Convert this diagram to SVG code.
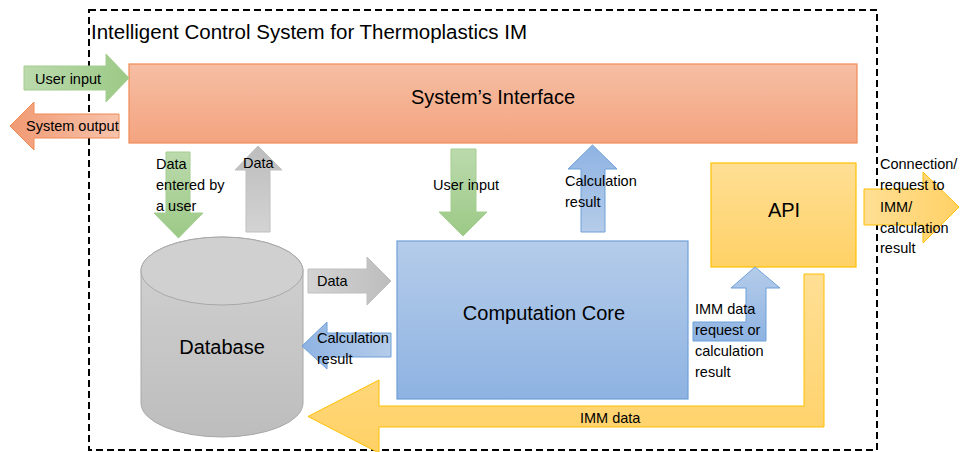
<svg xmlns="http://www.w3.org/2000/svg" width="961" height="452" viewBox="0 0 961 452">
  <defs>
    <linearGradient id="gOrange" x1="0" y1="0" x2="0" y2="1">
      <stop offset="0" stop-color="#F6BEA4"/>
      <stop offset="1" stop-color="#F4A47F"/>
    </linearGradient>
    <linearGradient id="gOrangeH" x1="1" y1="0" x2="0" y2="0">
      <stop offset="0" stop-color="#F7C3AB"/>
      <stop offset="1" stop-color="#F19A73"/>
    </linearGradient>
    <linearGradient id="gBlue" x1="0" y1="0" x2="0" y2="1">
      <stop offset="0" stop-color="#B5CCEA"/>
      <stop offset="1" stop-color="#8EB3E2"/>
    </linearGradient>
    <linearGradient id="gBlueUp" x1="0" y1="1" x2="0" y2="0">
      <stop offset="0" stop-color="#B5CCEA"/>
      <stop offset="1" stop-color="#8EB3E2"/>
    </linearGradient>
    <linearGradient id="gBlueL" x1="1" y1="0" x2="0" y2="0">
      <stop offset="0" stop-color="#B5CCEA"/>
      <stop offset="1" stop-color="#8EB3E2"/>
    </linearGradient>
    <linearGradient id="gYellow" x1="0" y1="0" x2="0" y2="1">
      <stop offset="0" stop-color="#FFDF95"/>
      <stop offset="1" stop-color="#FFD166"/>
    </linearGradient>
    <linearGradient id="gYellowH" x1="0" y1="0" x2="1" y2="0">
      <stop offset="0" stop-color="#FFDF95"/>
      <stop offset="1" stop-color="#FFD166"/>
    </linearGradient>
    <linearGradient id="gGreenR" x1="0" y1="0" x2="1" y2="0">
      <stop offset="0" stop-color="#BBDAAD"/>
      <stop offset="1" stop-color="#9CC986"/>
    </linearGradient>
    <linearGradient id="gGreenD" x1="0" y1="0" x2="0" y2="1">
      <stop offset="0" stop-color="#BBDAAD"/>
      <stop offset="1" stop-color="#9CC986"/>
    </linearGradient>
    <linearGradient id="gGrayR" x1="0" y1="0" x2="1" y2="0">
      <stop offset="0" stop-color="#D3D3D3"/>
      <stop offset="1" stop-color="#BDBDBD"/>
    </linearGradient>
    <linearGradient id="gGrayU" x1="0" y1="1" x2="0" y2="0">
      <stop offset="0" stop-color="#D3D3D3"/>
      <stop offset="1" stop-color="#BDBDBD"/>
    </linearGradient>
    <linearGradient id="gGrayDb" x1="0" y1="0" x2="0" y2="1">
      <stop offset="0" stop-color="#D2D2D2"/>
      <stop offset="1" stop-color="#BDBDBD"/>
    </linearGradient>
  </defs>
  <style>
    text { font-family: "Liberation Sans", Arial, sans-serif; fill: #000; }
    .big { font-size: 20px; }
    .lbl { font-size: 14.5px; }
    .frame { fill: none; stroke: #000; stroke-width: 2; stroke-dasharray: 7 4; }
    .green { fill: url(#gGreenD); stroke: #A3CE8F; stroke-width: 1; }
    .gray { stroke: #BFBFBF; stroke-width: 1; }
    .blue { stroke: #6FA0D8; stroke-width: 1; }
    .yellow { stroke: #FFC000; stroke-width: 1; }
    .orange { stroke: #F08A55; stroke-width: 1; }
  </style>

  <rect width="961" height="452" fill="#fff"/>

  <!-- system boundary -->
  <g id="boundary">
    <rect class="frame" x="89" y="10" width="788" height="440"/>
    <text x="91" y="39" font-size="19.5" textLength="436" lengthAdjust="spacingAndGlyphs">Intelligent Control System for Thermoplastics IM</text>
  </g>

  <!-- nodes -->
  <g id="interface">
    <rect x="129" y="64" width="728" height="79" fill="url(#gOrange)" stroke="#F08A55" stroke-width="1.2"/>
    <text class="big" x="493" y="104" text-anchor="middle">System’s Interface</text>
  </g>

  <g id="database">
    <path d="M141,271 A81,34 0 0 1 303,271 V403 A81,34 0 0 1 141,403 Z" fill="url(#gGrayDb)" stroke="#A8A8A8" stroke-width="1"/>
    <ellipse cx="222" cy="271" rx="81" ry="34" fill="#D0D0D0" stroke="#A8A8A8" stroke-width="1"/>
    <text class="big" x="222" y="354" text-anchor="middle">Database</text>
  </g>

  <g id="core">
    <rect x="397" y="241" width="291" height="158" fill="url(#gBlue)" stroke="#6FA0D8" stroke-width="1.2"/>
    <text class="big" x="544" y="320" text-anchor="middle">Computation Core</text>
  </g>

  <g id="api">
    <rect x="711" y="163" width="145" height="104" fill="url(#gYellow)" stroke="#FFC000" stroke-width="1.2"/>
    <text class="big" x="784" y="217" text-anchor="middle">API</text>
  </g>

  <!-- connectors (block arrows) -->
  <g id="connectors">
    <!-- user input into the interface -->
    <polygon points="24,66 106,66 106,54 129,78 106,102 106,90 24,90" fill="url(#gGreenR)" stroke="#A3CE8F"/>
    <text class="lbl" x="35" y="84">User input</text>

    <!-- system output -->
    <polygon points="119,114 34,114 34,102 10,126 34,150 34,138 119,138" fill="url(#gOrangeH)" class="orange"/>
    <text class="lbl" x="26" y="131">System output</text>

    <!-- interface to database -->
    <polygon class="green" points="166,152 190,152 190,213 203,213 178.5,238 154,213 166,213"/>
    <text class="lbl" x="156" y="169">Data</text>
    <text class="lbl" x="156" y="190">entered by</text>
    <text class="lbl" x="156" y="211">a user</text>

    <!-- database to interface -->
    <polygon class="gray" fill="url(#gGrayU)" points="246,232 270,232 270,170 282,170 258,146 235,170 246,170"/>
    <text class="lbl" x="243" y="168">Data</text>

    <!-- interface to core -->
    <polygon class="green" points="451,149 476,149 476,212 487,212 463,236 439,212 451,212"/>
    <text class="lbl" x="433" y="190">User input</text>

    <!-- core to interface -->
    <polygon class="blue" fill="url(#gBlueUp)" points="581,232 605,232 605,169 617,169 592.5,145 568,169 581,169"/>
    <text class="lbl" x="565" y="186">Calculation</text>
    <text class="lbl" x="565" y="207">result</text>

    <!-- database to core -->
    <polygon class="gray" fill="url(#gGrayR)" points="308,269 367,269 367,257 391,281 367,305 367,293 308,293"/>
    <text class="lbl" x="317" y="286">Data</text>

    <!-- core to database -->
    <polygon class="blue" fill="url(#gBlueL)" points="391,333 327,333 327,322 302,346 327,369 327,357 391,357"/>
    <text class="lbl" x="317" y="343">Calculation</text>
    <text class="lbl" x="317" y="364">result</text>

    <!-- core to api (bent) -->
    <polygon class="blue" fill="url(#gBlue)" points="755,267 780,288 766,288 766,341 693,341 693,322 746,322 746,288 731,288"/>
    <text class="lbl" x="695" y="314">IMM data</text>
    <text class="lbl" x="695" y="335">request or</text>
    <text class="lbl" x="695" y="356">calculation</text>
    <text class="lbl" x="695" y="377">result</text>

    <!-- api to database (bent) -->
    <polygon class="yellow" fill="url(#gYellow)" points="804,274 824,274 824,427 379,427 379,453 308,416.5 379,380 379,406 804,406"/>
    <text class="lbl" x="580" y="423">IMM data</text>

    <!-- api to the machine -->
    <polygon class="yellow" fill="url(#gYellowH)" points="864,189 923,189 923,172 959,207 923,243 923,225 864,225"/>
    <text class="lbl" x="880" y="169">Connection/</text>
    <text class="lbl" x="880" y="190">request to</text>
    <text class="lbl" x="880" y="212">IMM/</text>
    <text class="lbl" x="880" y="233">calculation</text>
    <text class="lbl" x="880" y="253">result</text>
  </g>
</svg>
